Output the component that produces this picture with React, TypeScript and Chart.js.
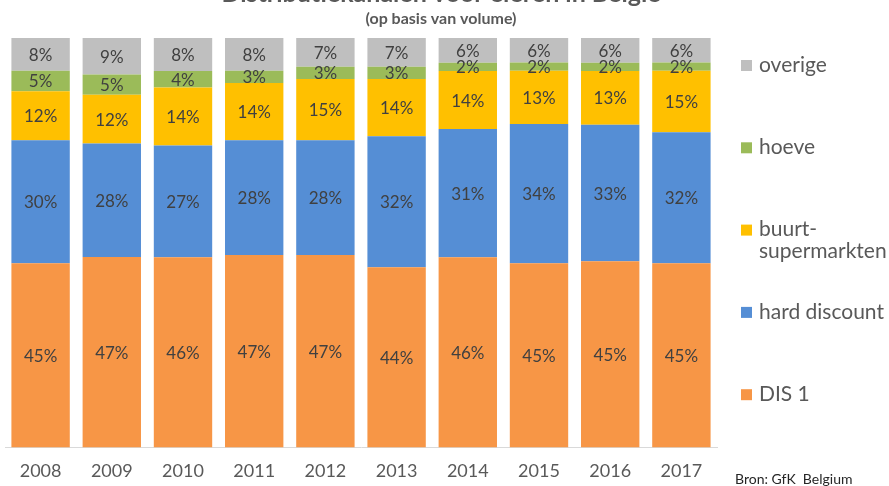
import React, { useEffect, useRef } from "react";
import { Chart, registerables } from "chart.js";

Chart.register(...registerables);

const years = ["2008", "2009", "2010", "2011", "2012", "2013", "2014", "2015", "2016", "2017"];
const dis1 = [45, 47, 46, 47, 47, 44, 46, 45, 45, 45];
const hardDiscount = [30, 28, 27, 28, 28, 32, 31, 34, 33, 32];
const buurtSupermarkten = [12, 12, 14, 14, 15, 14, 14, 13, 13, 15];
const hoeve = [5, 5, 4, 3, 3, 3, 2, 2, 2, 2];
const overige = [8, 9, 8, 8, 7, 7, 6, 6, 6, 6];

const seriesNames = ["DIS 1", "hard discount", "buurt-supermarkten", "hoeve", "overige"];
const seriesValues = [dis1, hardDiscount, buurtSupermarkten, hoeve, overige];
const seriesColors = ["#F79646", "#558ED5", "#FFC000", "#9BBB59", "#BFBFBF"];
const legendLines = [["overige"], ["hoeve"], ["buurt-", "supermarkten"], ["hard discount"], ["DIS 1"]];
const legendColors = ["#BFBFBF", "#9BBB59", "#FFC000", "#558ED5", "#F79646"];

const titleText = "Distributiekanalen voor eieren in België";
const subtitleText = "(op basis van volume)";
const sourceText = "Bron: GfK  Belgium";

const FONT = "Lato, 'Open Sans', sans-serif";

export default function App() {
  const ref = useRef<HTMLCanvasElement | null>(null);
  useEffect(() => {
    if (!ref.current) return;
    const totals = years.map((_, i) => seriesValues.reduce((s, arr) => s + arr[i], 0));
    const datasets = seriesNames.map((name, k) => ({
      label: name,
      data: seriesValues[k].map((v, i) => (v / totals[i]) * 100),
      raw: seriesValues[k],
      backgroundColor: seriesColors[k],
      borderWidth: 0,
      barPercentage: 0.82,
      categoryPercentage: 1,
    }));

    const overlay = {
      id: "overlay",
      afterDatasetsDraw(chart: any) {
        const ctx = chart.ctx;
        ctx.save();
        // data labels
        ctx.font = `17px ${FONT}`;
        ctx.fillStyle = "#404040";
        ctx.textAlign = "center";
        ctx.textBaseline = "middle";
        chart.data.datasets.forEach((ds: any, di: number) => {
          const meta = chart.getDatasetMeta(di);
          meta.data.forEach((bar: any, i: number) => {
            const y = (bar.y + bar.base) / 2;
            ctx.fillText(ds.raw[i] + "%", bar.x, y + 1);
          });
        });
        // title (partially cut off at top)
        ctx.fillStyle = "#595959";
        ctx.font = `bold 25px ${FONT}`;
        ctx.textBaseline = "alphabetic";
        ctx.fillText(titleText, 441, 1.5);
        ctx.font = `bold 16px ${FONT}`;
        ctx.textBaseline = "middle";
        ctx.fillText(subtitleText, 441, 19);
        // legend
        const area = chart.chartArea;
        ctx.textAlign = "left";
        ctx.font = `21px ${FONT}`;
        legendLines.forEach((lines, i) => {
          const y = area.top + 27 + i * 82.3;
          ctx.fillStyle = legendColors[i];
          ctx.fillRect(741, y - 5, 11, 11);
          ctx.fillStyle = "#595959";
          lines.forEach((t, j) => ctx.fillText(t, 759, y + j * 22));
        });
        // source
        ctx.font = `14px ${FONT}`;
        ctx.fillStyle = "#262626";
        ctx.fillText(sourceText, 735, 479);
        ctx.restore();
      },
    };

    const chart = new Chart(ref.current, {
      type: "bar",
      data: { labels: years, datasets: datasets as any },
      options: {
        animation: false,
        responsive: false,
        maintainAspectRatio: false,
        layout: { padding: { left: 5, right: 172, top: 38, bottom: -9 } },
        plugins: { legend: { display: false }, title: { display: false }, tooltip: { enabled: false } },
        scales: {
          x: {
            stacked: true,
            grid: { display: false, drawTicks: false },
            border: { display: true, color: "#D9D9D9", width: 1 },
            ticks: { color: "#595959", font: { size: 18, family: FONT }, padding: 13 },
          },
          y: { stacked: true, display: false, min: 0, max: 100 },
        },
      },
      plugins: [overlay],
    });
    return () => chart.destroy();
  }, []);
  return (
    <div style={{ position: "fixed", left: 0, top: 0, width: 889, height: 486, background: "#fff" }}>
      <canvas ref={ref} width={889} height={486} style={{ width: 889, height: 486 }} />
    </div>
  );
}
